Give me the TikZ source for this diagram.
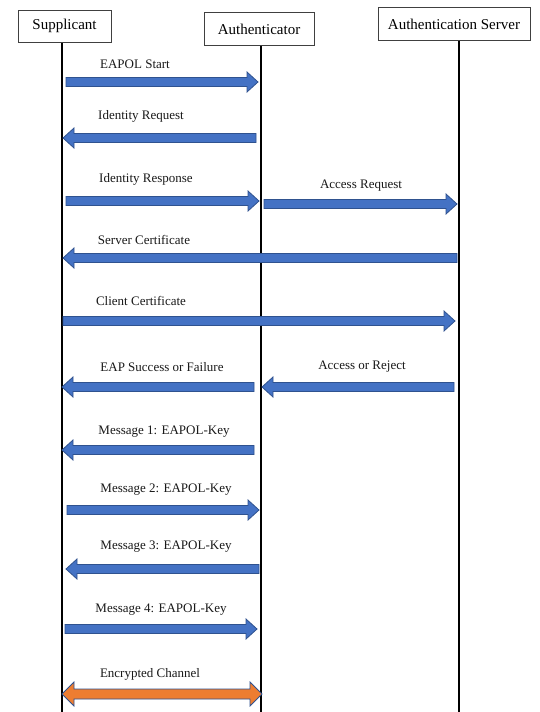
\documentclass[tikz,border=0pt]{standalone}
\usepackage{fontspec}
\setmainfont{Liberation Serif}
\usetikzlibrary{calc}
\definecolor{arrblue}{HTML}{4472C4}
\definecolor{arredge}{HTML}{2F528F}
\definecolor{arrorange}{HTML}{ED7D31}
\definecolor{boxedge}{HTML}{404040}
\tikzset{
  actor/.style={draw=boxedge, line width=1pt, fill=white, inner sep=0pt,
    font=\fontsize{15}{17}\selectfont},
  lifeline/.style={line width=1.4pt, black},
  msg/.style={font=\fontsize{13}{15}\selectfont, inner sep=0pt, text=black!90},
  blk/.style={fill=arrblue, draw=arredge, line width=0.8pt, line join=miter},
  blkor/.style={fill=arrorange, draw=arredge, line width=0.8pt, line join=miter},
}
% one-headed block arrow from #2 to #3 (horizontal)
\newcommand\blockarrow[3][blk]{%
  \filldraw[#1] let \p1=(#2), \p2=(#3), \n1={ifthenelse(\x2>\x1,1,-1)} in
    (\x1,\y1+4.5pt) -- (\x2-\n1*11pt,\y1+4.5pt) -- (\x2-\n1*11pt,\y1+10pt)
    -- (\x2,\y1) -- (\x2-\n1*11pt,\y1-10pt) -- (\x2-\n1*11pt,\y1-4.5pt)
    -- (\x1,\y1-4.5pt) -- cycle;}
% two-headed block arrow from #2 to #3 (horizontal, left to right)
\newcommand\dblblockarrow[3][blkor]{%
  \filldraw[#1] let \p1=(#2), \p2=(#3) in
    (\x1,\y1) -- (\x1+12pt,\y1+12pt) -- (\x1+12pt,\y1+5pt)
    -- (\x2-12pt,\y1+5pt) -- (\x2-12pt,\y1+12pt) -- (\x2,\y1)
    -- (\x2-12pt,\y1-12pt) -- (\x2-12pt,\y1-5pt) -- (\x1+12pt,\y1-5pt)
    -- (\x1+12pt,\y1-12pt) -- cycle;}
\begin{document}
\begin{tikzpicture}[x=1pt,y=-1pt]
\useasboundingbox[fill=white] (0,0) rectangle (540,712);

% lifelines
\coordinate (supTop) at (62,42);   \coordinate (supBot) at (62,712);
\coordinate (authTop) at (261,45); \coordinate (authBot) at (261,712);
\coordinate (srvTop) at (459,40);  \coordinate (srvBot) at (459,712);
\draw[lifeline] (supTop) -- (supBot);
\draw[lifeline] (authTop) -- (authBot);
\draw[lifeline] (srvTop) -- (srvBot);

% actors
\node[actor, minimum width=93pt, minimum height=32pt] (sup) at (64.5,26) {Supplicant};
\node[actor, minimum width=110pt, minimum height=33pt] (auth) at (259,29) {Authenticator};
\node[actor, minimum width=152pt, minimum height=33pt] (srv) at (454,24) {Authentication Server};

% 1 EAPOL Start
\node[msg] (l1) at (135,64) {EAPOL Start};
\coordinate (a1s) at (66,82); \coordinate (a1e) at (258,82);
\blockarrow{a1s}{a1e}

% 2 Identity Request
\node[msg] (l2) at (141,116) {Identity Request};
\coordinate (a2s) at (256,138); \coordinate (a2e) at (63,138);
\blockarrow{a2s}{a2e}

% 3 Identity Response / Access Request
\node[msg] (l3) at (146,179) {Identity Response};
\coordinate (a3s) at (66,201); \coordinate (a3e) at (259,201);
\blockarrow{a3s}{a3e}
\node[msg] (l3b) at (361,186) {Access Request};
\coordinate (a3bs) at (264,204); \coordinate (a3be) at (457,204);
\blockarrow{a3bs}{a3be}

% 4 Server Certificate
\node[msg] (l4) at (144,240) {Server Certificate};
\coordinate (a4s) at (457,258); \coordinate (a4e) at (63,258);
\blockarrow{a4s}{a4e}

% 5 Client Certificate
\node[msg] (l5) at (141,301) {Client Certificate};
\coordinate (a5s) at (63,321); \coordinate (a5e) at (455,321);
\blockarrow{a5s}{a5e}

% 6 EAP Success or Failure / Access or Reject
\node[msg] (l6) at (162,367) {EAP Success or Failure};
\coordinate (a6s) at (254,387); \coordinate (a6e) at (62,387);
\blockarrow{a6s}{a6e}
\node[msg] (l6b) at (362,367) {Access or Reject};
\coordinate (a6bs) at (454,387); \coordinate (a6be) at (262,387);
\blockarrow{a6bs}{a6be}

% 7 Message 1
\node[msg] (l7) at (164,432) {Message 1: EAPOL-Key};
\coordinate (a7s) at (254,450); \coordinate (a7e) at (62,450);
\blockarrow{a7s}{a7e}

% 8 Message 2
\node[msg] (l8) at (166,490) {Message 2: EAPOL-Key};
\coordinate (a8s) at (67,510); \coordinate (a8e) at (259,510);
\blockarrow{a8s}{a8e}

% 9 Message 3
\node[msg] (l9) at (166,547) {Message 3: EAPOL-Key};
\coordinate (a9s) at (259,569); \coordinate (a9e) at (66,569);
\blockarrow{a9s}{a9e}

% 10 Message 4
\node[msg] (l10) at (161,610) {Message 4: EAPOL-Key};
\coordinate (a10s) at (65,629); \coordinate (a10e) at (257,629);
\blockarrow{a10s}{a10e}

% 11 Encrypted Channel
\node[msg] (l11) at (150,674) {Encrypted Channel};
\coordinate (a11s) at (62,694); \coordinate (a11e) at (262,694);
\dblblockarrow{a11s}{a11e}
\end{tikzpicture}
\end{document}
